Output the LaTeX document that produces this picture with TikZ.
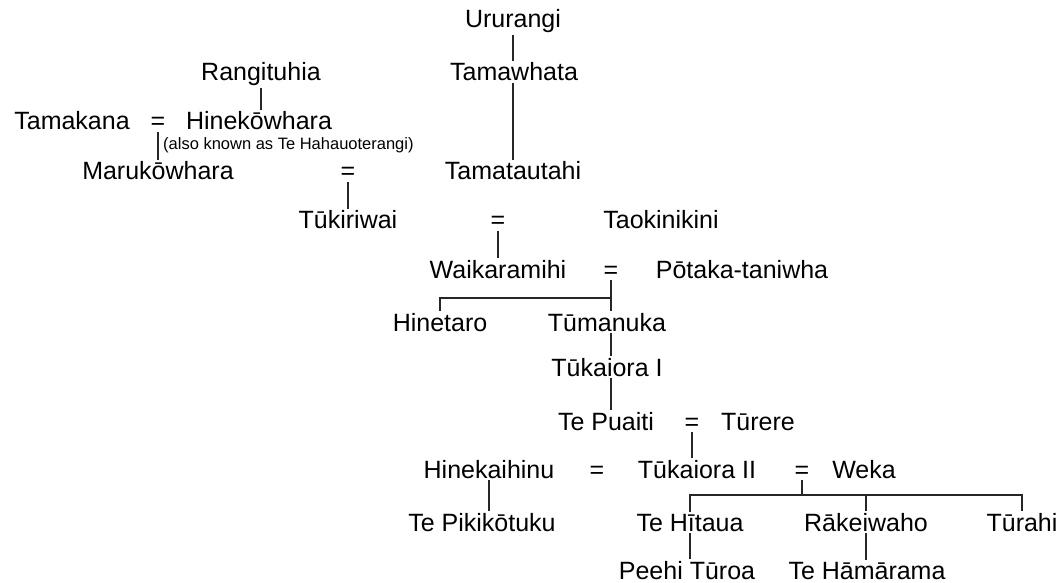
\documentclass[tikz,border=0pt]{standalone}
\usepackage{fontspec}
\setmainfont{Liberation Sans}
\begin{document}
\begin{tikzpicture}[x=1pt,y=-1pt,
  p/.style={anchor=base,inner sep=1.5pt,font=\fontsize{25}{30}\selectfont},
  note/.style={anchor=base west,inner sep=0pt,font=\fontsize{16.5}{20}\selectfont},
  ln/.style={line width=1.1pt,draw=black!85}]
\useasboundingbox (0,0) rectangle (1061,583);
\node[p] (ururangi) at (513,28) {Ururangi};
\node[p] (tamawhata) at (514,81) {Tamawhata};
\node[p] (rangituhia) at (261,81) {Rangituhia};
\node[p] (tamakana) at (72,130) {Tamakana};
\node[p] (eqA) at (158,130) {=};
\node[p] (hinekowhara) at (259,130) {Hinekōwhara};
\node[note] (aka) at (163,150) {(also known as Te Hahauoterangi)};
\node[p] (marukowhara) at (158,180) {Marukōwhara};
\node[p] (eqB) at (348,180) {=};
\node[p] (tamatautahi) at (513,180) {Tamatautahi};
\node[p] (tukiriwai) at (348,229) {Tūkiriwai};
\node[p] (eqC) at (498,229) {=};
\node[p] (taokinikini) at (661,229) {Taokinikini};
\node[p] (waikaramihi) at (498,278) {Waikaramihi};
\node[p] (eqD) at (611,278) {=};
\node[p] (potaka) at (742,278) {Pōtaka-taniwha};
\node[p] (hinetaro) at (440,331) {Hinetaro};
\node[p] (tumanuka) at (607,331) {Tūmanuka};
\node[p] (tukaioraI) at (607,376) {Tūkaiora I};
\node[p] (tepuaiti) at (606,430) {Te Puaiti};
\node[p] (eqE) at (692,430) {=};
\node[p] (turere) at (758,430) {Tūrere};
\node[p] (hinekaihinu) at (489,478) {Hinekaihinu};
\node[p] (eqF) at (597,478) {=};
\node[p] (tukaioraII) at (697,478) {Tūkaiora II};
\node[p] (eqG) at (802,478) {=};
\node[p] (weka) at (864,478) {Weka};
\node[p] (pikikotuku) at (482,531) {Te Pikikōtuku};
\node[p] (hitaua) at (690,531) {Te Hītaua};
\node[p] (rakeiwaho) at (866,531) {Rākeiwaho};
\node[p] (turahi) at (1022,531) {Tūrahi};
\node[p] (peehi) at (687,579) {Peehi Tūroa};
\node[p] (hamarama) at (867,579) {Te Hāmārama};
\coordinate (jD) at (611,298);
\coordinate (jG) at (802,495);
\coordinate (colT) at (513,0);
\draw[ln] (ururangi.south -| colT) -- (tamawhata.north -| colT);
\draw[ln] (tamawhata.south -| colT) -- (tamatautahi.north -| colT);
\draw[ln] (rangituhia.south) -- (rangituhia.south |- hinekowhara.north);
\draw[ln] (eqA.south) -- (eqA.south |- marukowhara.north);
\draw[ln] (eqB.south) -- (eqB.south |- tukiriwai.north);
\draw[ln] (eqC.south) -- (eqC.south |- waikaramihi.north);
\draw[ln] (eqD.south) -- (jD) -| (hinetaro.north);
\draw[ln] (jD) -- (jD |- tumanuka.north);
\draw[ln] (jD |- tumanuka.south) -- (jD |- tukaioraI.north);
\draw[ln] (jD |- tukaioraI.south) -- (jD |- tepuaiti.north);
\draw[ln] (eqE.south) -- (eqE.south |- tukaioraII.north);
\draw[ln] (hinekaihinu.south) -- (hinekaihinu.south |- pikikotuku.north);
\draw[ln] (eqG.south) -- (jG);
\draw[ln] (hitaua.north) |- (jG) -| (turahi.north);
\draw[ln] (jG -| rakeiwaho.north) -- (rakeiwaho.north);
\draw[ln] (hitaua.south) -- (hitaua.south |- peehi.north);
\draw[ln] (rakeiwaho.south) -- (rakeiwaho.south |- hamarama.north);
\end{tikzpicture}
\end{document}
